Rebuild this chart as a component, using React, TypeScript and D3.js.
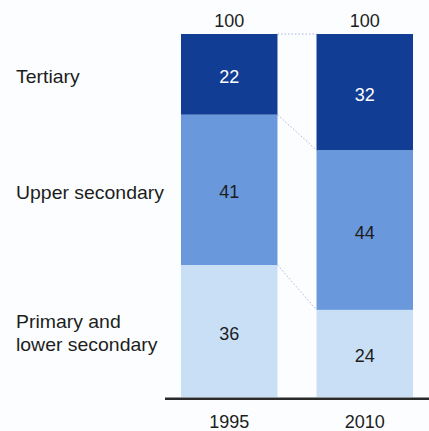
import React from "react";
import * as d3 from "d3";

const years = ["1995", "2010"];
const categories = ["Primary and lower secondary", "Upper secondary", "Tertiary"];
const categoryLines = [["Primary and", "lower secondary"], ["Upper secondary"], ["Tertiary"]];
const primary = [36, 24];
const upperSecondary = [41, 44];
const tertiary = [22, 32];
const totalLabels = ["100", "100"];
const colors = ["#c9dff6", "#6999dc", "#113d94"];
const textColors = ["#1d1d1d", "#1d1d1d", "#ffffff"];

const W = 429;
const H = 431;
const FONT = "'Liberation Sans', Arial, sans-serif";

export default function App() {
  const series = [primary, upperSecondary, tertiary];
  const x = d3.scaleBand<string>().domain(years).range([165, 429]).paddingInner(0.288).paddingOuter(0.118);
  const y = d3.scaleLinear().domain([0, 100]).range([397, 34]);

  const rows = years.map((yr, i) => {
    const o: any = { year: yr };
    const tot = series.reduce((s, a) => s + a[i], 0);
    categories.forEach((c, k) => (o[c] = (series[k][i] / tot) * 100));
    return o;
  });
  const stacked = d3.stack<any>().keys(categories)(rows);
  const bw = x.bandwidth();
  const x0 = x(years[0])!;
  const x1 = x(years[1])!;

  return (
    <svg width={W} height={H} style={{ position: "absolute", left: 0, top: 0, background: "#fbfdff" }} fontFamily={FONT}>
      <rect x={0} y={0} width={W} height={H} fill="#fbfdff" />
      {stacked.map((s, k) => {
        const v = s[0][1];
        const v2 = s[1][1];
        return (
          <line key={"c" + k} x1={x0 + bw} x2={x1} y1={y(v)} y2={y(v2)} stroke="#a9b3e2" strokeWidth={1} strokeDasharray="1.5,2" />
        );
      })}
      {stacked.map((s, k) =>
        s.map((d, i) => (
          <g key={k + "-" + i}>
            <rect x={x(years[i])!} y={y(d[1])} width={bw} height={y(d[0]) - y(d[1])} fill={colors[k]} />
            <text x={x(years[i])! + bw / 2} y={(y(d[0]) + y(d[1])) / 2 + 8.5} textAnchor="middle" fontSize={18} fill={textColors[k]}>
              {series[k][i]}
            </text>
          </g>
        ))
      )}
      {years.map((yr, i) => (
        <text key={"t" + yr} x={x(yr)! + bw / 2} y={27} textAnchor="middle" fontSize={18} fill="#1d1d1d">
          {totalLabels[i]}
        </text>
      ))}
      {stacked.map((s, k) => {
        const mid = (y(s[0][0]) + y(s[0][1])) / 2;
        const lines = categoryLines[k];
        const start = mid + 9 - ((lines.length - 1) * 23) / 2;
        return (
          <g key={"l" + k} transform="translate(16,0) scale(1.08,1)">
            <text x={0} y={start} fontSize={18} fill="#1d1d1d">
              {lines.map((ln, j) => (
                <tspan key={j} x={0} y={start + j * 23}>
                  {ln}
                </tspan>
              ))}
            </text>
          </g>
        );
      })}
      <line x1={165} x2={429} y1={398.8} y2={398.8} stroke="#2a2a2a" strokeWidth={2.6} />
      {years.map((yr) => (
        <text key={"y" + yr} x={x(yr)! + bw / 2} y={428} textAnchor="middle" fontSize={18} fill="#1d1d1d">
          {yr}
        </text>
      ))}
    </svg>
  );
}
